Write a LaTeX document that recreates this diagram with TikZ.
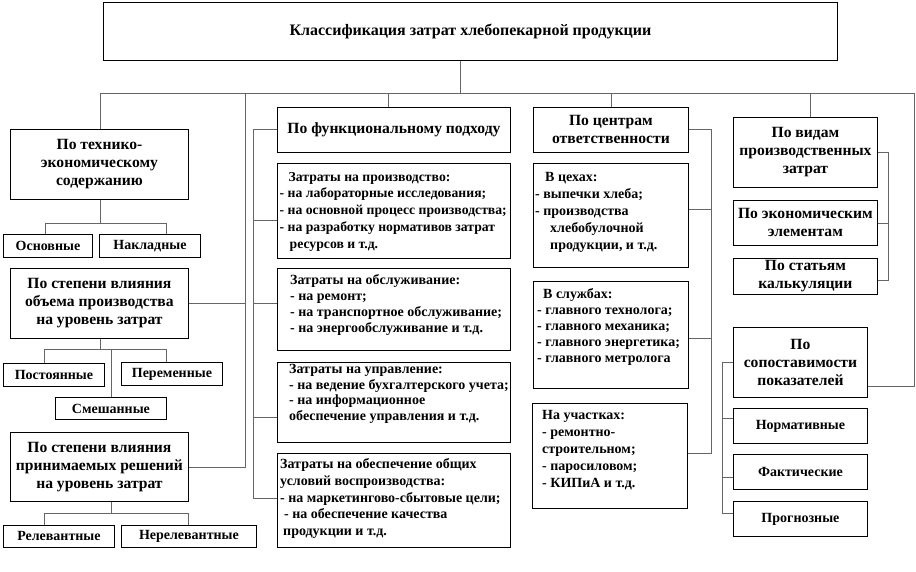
\documentclass[tikz,border=0pt]{standalone}
\usepackage{fontspec}
\setmainfont{Liberation Serif}
\begin{document}
\begin{tikzpicture}[x=1pt,y=-1pt,
  box/.style={draw=black,line width=0.9pt,inner sep=1pt,anchor=north west,align=center},
  hd/.style={box,font=\fontsize{15.6}{18}\selectfont\bfseries},
  lb/.style={box,font=\fontsize{14}{15}\selectfont\bfseries},
  tx/.style={anchor=north west,inner sep=0pt,align=left,font=\fontsize{14}{16.7}\selectfont\bfseries},
  con/.style={draw=black!60,line width=0.9pt}]
\useasboundingbox (0,0) rectangle (916,572);

% title
\node[box,font=\fontsize{16}{18}\selectfont\bfseries,minimum width=734pt,minimum height=58pt] (title) at (103,2) {Классификация затрат хлебопекарной продукции};

% left column
\node[hd,minimum width=178pt,minimum height=70pt] (t1) at (10,129) {По технико-\\экономическому\\содержанию};
\node[lb,minimum width=89pt,minimum height=23pt] (a1) at (3,234) {Основные};
\node[lb,minimum width=101pt,minimum height=23pt] (a2) at (99,234) {Накладные};
\node[hd,minimum width=178pt,minimum height=70pt] (t2) at (10,268) {По степени влияния\\объема производства\\на уровень затрат};
\node[lb,minimum width=101pt,minimum height=23pt] (b1) at (3,363) {Постоянные};
\node[lb,minimum width=101pt,minimum height=23pt] (b2) at (121,362) {Переменные};
\node[lb,minimum width=111pt,minimum height=22pt] (b3) at (55,397) {Смешанные};
\node[hd,minimum width=178pt,minimum height=69pt] (t3) at (10,432) {По степени влияния\\принимаемых решений\\на уровень затрат};
\node[lb,minimum width=111pt,minimum height=22pt] (c1) at (3,525) {Релевантные};
\node[lb,minimum width=135pt,minimum height=22pt] (c2) at (121,525) {Нерелевантные};

% functional column
\node[hd,minimum width=233pt,minimum height=45pt] (fh) at (277,107) {По функциональному подходу};
\node[box,minimum width=233pt,minimum height=95pt] (f1) at (277,163) {};
\node[tx,font=\fontsize{13.7}{16.7}\selectfont\bfseries] (f1t) at (279.5,172) {\hspace*{9pt}Затраты на производство:\\- на лабораторные исследования;\\- на основной процесс производства;\\- на разработку нормативов затрат\\\hspace*{10pt}ресурсов и т.д.};
\node[box,minimum width=233pt,minimum height=82pt] (f2) at (277,268) {};
\node[tx,font=\fontsize{14}{16}\selectfont\bfseries] (f2t) at (290,274.5) {Затраты на обслуживание:\\- на ремонт;\\- на транспортное обслуживание;\\- на энергообслуживание и т.д.};
\node[box,minimum width=233pt,minimum height=80pt] (f3) at (277,362) {};
\node[tx,font=\fontsize{14}{15.5}\selectfont\bfseries] (f3t) at (289,364.5) {Затраты на управление:\\- на ведение бухгалтерского учета;\\- на информационное\\обеспечение управления и т.д.};
\node[box,minimum width=233pt,minimum height=94pt] (f4) at (277,453) {};
\node[tx] (f4t) at (280,458.5) {Затраты на обеспечение общих\\условий воспроизводства:\\- на маркетингово-сбытовые цели;\\\hspace*{4pt}- на обеспечение качества\\\hspace*{3pt}продукции и т.д.};

% centres column
\node[hd,minimum width=155pt,minimum height=45pt] (ch) at (533,107) {По центрам\\ответственности};
\node[box,minimum width=155pt,minimum height=104pt] (cz1) at (533,163) {};
\node[tx,font=\fontsize{14}{17}\selectfont\bfseries] (cz1t) at (535,172) {\hspace*{10pt}В цехах:\\- выпечки хлеба;\\- производства\\\hspace*{15pt}хлебобулочной\\\hspace*{15pt}продукции, и т.д.};
\node[box,minimum width=155pt,minimum height=107pt] (cz2) at (533,281) {};
\node[tx,font=\fontsize{14}{16}\selectfont\bfseries] (cz2t) at (537,288.5) {\hspace*{6pt}В службах:\\- главного технолога;\\- главного механика;\\- главного энергетика;\\- главного метролога};
\node[box,minimum width=155pt,minimum height=105pt] (cz3) at (532,403) {};
\node[tx,font=\fontsize{14}{17}\selectfont\bfseries] (cz3t) at (542,410.5) {На участках:\\- ремонтно-\\строительном;\\- паросиловом;\\- КИПиА и т.д.};

% right column
\node[hd,minimum width=144pt,minimum height=70pt] (r1) at (733,117) {По видам\\производственных\\затрат};
\node[hd,minimum width=144pt,minimum height=45pt] (r2) at (733,200) {По экономическим\\элементам};
\node[hd,minimum width=144pt,minimum height=36pt] (r3) at (733,258) {По статьям\\калькуляции};
\node[hd,minimum width=134pt,minimum height=70pt] (r4) at (733,327) {По\\сопоставимости\\показателей};
\node[lb,minimum width=134pt,minimum height=35pt] (n1) at (733,408) {Нормативные};
\node[lb,minimum width=134pt,minimum height=35pt] (n2) at (733,454) {Фактические};
\node[lb,minimum width=134pt,minimum height=35pt] (n3) at (733,501) {Прогнозные};

% connectors
\coordinate (bl) at (100,93);
\coordinate (br) at (914,93);
\draw[con] (bl) -- (br);
\draw[con] (title.south -| 460,0) -- (460,93);
% left
\draw[con] (bl) -- (t1.north -| bl);
\draw[con] (245,93) |- (t3.east);
\draw[con] (t2.east) -- (t2.east -| 245,0);
\draw[con] (t1.south -| bl) -- (100,223);
\draw[con] (a1.north -| 45,0) |- (166,223) -- (a2.north -| 166,0);
\draw[con] (t2.south -| 100,0) -- (100,349);
\draw[con] (b1.north -| 44,0) |- (166,349) -- (b2.north -| 166,0);
\draw[con] (111,349) -- (b3.north -| 111,0);
\draw[con] (t3.south -| 111,0) -- (111,513);
\draw[con] (c1.north -| 44,0) |- (188,513) -- (c2.north -| 188,0);
% functional
\draw[con] (388,93) -- (fh.north -| 388,0);
\draw[con] (fh.west) -| (253,498) -- (f4.west |- 0,498);
\draw[con] (253,220) -- (f1.west |- 0,220);
\draw[con] (253,303) -- (f2.west |- 0,303);
\draw[con] (253,417) -- (f3.west |- 0,417);
% centres
\draw[con] (611,93) -- (ch.north -| 611,0);
\draw[con] (ch.east) -| (711,453) -- (cz3.east |- 0,453);
\draw[con] (711,209) -- (cz1.east |- 0,209);
\draw[con] (711,338) -- (cz2.east |- 0,338);
% right
\draw[con] (810,93) -- (r1.north -| 810,0);
\draw[con] (r1.east) -| (888,280) -- (r3.east |- 0,280);
\draw[con] (888,223) -- (r2.east |- 0,223);
\draw[con] (br) |- (r4.east |- 0,386);
\draw[con] (r4.west) -| (722,513) -- (n3.west |- 0,513);
\draw[con] (722,418) -- (n1.west |- 0,418);
\draw[con] (722,477) -- (n2.west |- 0,477);
\end{tikzpicture}
\end{document}
